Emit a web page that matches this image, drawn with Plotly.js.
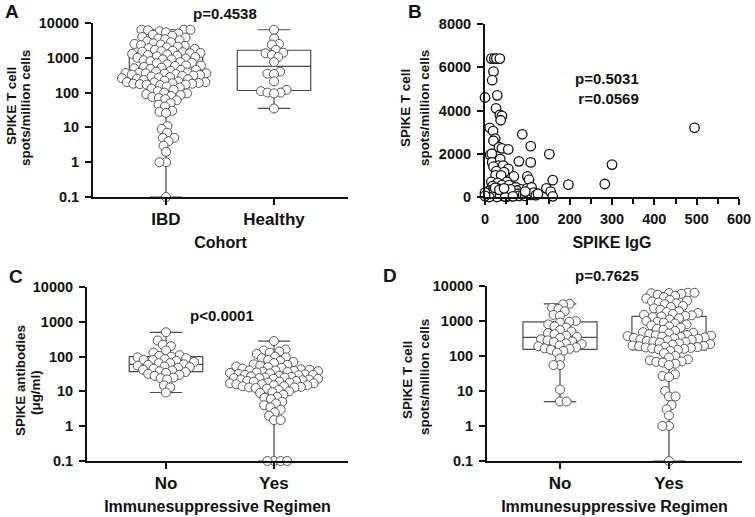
<!DOCTYPE html>
<html><head><meta charset="utf-8">
<script src="https://cdn.plot.ly/plotly-3.0.1.min.js"></script>
<style>html,body{margin:0;padding:0;background:#fff;}#chart{width:755px;height:517px;}</style>
</head><body><div id="chart"></div>
<script>
// ---------- DATA ----------
// Panel A: SPIKE T cell spots/million cells by cohort
const cohortCats = ['IBD', 'Healthy'];
const ibdTcell = [6400,6400,6400,6200,5800,5400,5000,4600,4300,4000,3800,3600,3400,3200,3000,2800,2600,2500,2400,2300,2200,2100,2000,1900,1800,1700,1600,1550,1500,1450,
1380,1350,1300,1250,1200,1150,1100,1050,1000,950,900,900,850,800,750,720,700,650,600,600,580,550,520,500,480,450,450,420,400,380,
370,365,360,360,350,340,330,320,310,300,290,280,270,260,250,240,230,220,210,200,200,195,190,185,180,180,175,170,170,165,
150,140,130,120,110,100,95,90,85,80,75,70,65,60,50,45,40,30,28,26,11,9,7,5,5,4,3,2,1,1,0.1];
const healthyTcell = [6400,3600,2500,2400,1700,1400,1350,1200,1050,750,400,350,340,210,120,110,100,100,95,35];
const aQ1 = [160, 115], aMedian = [375, 570], aQ3 = [1400, 1650], aMin = [0.1, 35], aMax = [6400, 6400];

// Panel B: SPIKE IgG vs SPIKE T cell
const igG = [0,15,22,27,35,20,17,29,26,35,40,37,11,19,24,20,33,40,55,88,108,152,12,16,17,36,32,43,55,80,108,20,27,45,100,104,160,68,25,38,52,15,30,18,40,57,73,85,100,110,145,155,197,283,300,495,
2,5,8,10,12,15,18,20,22,25,28,30,32,35,38,40,42,45,48,50,53,55,58,60,63,65,68,70,75,78,80,90,95,102,110,115,120,125,160,95,28,48,60,6,3,14,24,34,45,66,10,0,0];
const tcellB = [4600,6400,6400,6400,6400,5800,5400,4700,4100,3800,3750,3550,3200,3050,2700,2600,2300,2250,2200,2900,2350,1980,1950,2000,1600,1750,1450,1450,1300,1650,1600,1400,1200,1150,950,800,780,950,1000,1000,700,700,650,500,550,550,450,350,400,450,400,250,570,600,1500,3200,
100,250,50,150,300,200,80,350,150,50,250,400,100,200,300,50,150,250,350,100,20,200,300,120,50,250,200,100,300,150,50,100,50,150,100,200,80,150,30,250,0,20,350,180,30,120,420,330,400,30,0,200,50];

// Panel C: SPIKE antibodies by immunosuppressive regimen
const regimenCats = ['No', 'Yes'];
const abNo = [500,290,220,200,150,130,110,105,100,95,90,85,80,80,75,70,65,65,60,58,55,52,50,48,45,42,40,38,36,34,32,30,28,25,24,22,15,13,9.3];
const abYes = [280,160,150,140,130,120,100,95,90,80,75,70,65,60,58,55,52,50,48,45,43,42,40,40,39,38,37,36,35,34,33,32,31,30,30,29,28,27,26,25,25,24,24,23,23,22,22,21,20,20,19,19,18,18,17,17,16,16,15,15,14,14,13.5,13,13,12.5,12,11,10,9.5,9,8,7,6.5,6,5,4.5,4,3.5,3,2.5,2,1.5,1.5,0.1,0.1,0.1,0.1];
const cQ1 = [37, 13], cMedian = [60, 24], cQ3 = [100, 41], cMin = [9.3, 0.1], cMax = [500, 280];

// Panel D: SPIKE T cell by immunosuppressive regimen
const tcNo = [3100,3000,2400,2200,1900,1500,1400,1000,950,900,800,700,650,550,500,450,420,380,350,330,300,280,260,250,230,220,200,190,175,165,160,150,140,125,85,55,55,11,5,5];
const tcYes = [6400,6400,6300,6200,6000,5600,5200,4800,4400,4000,3800,3600,3400,3200,3000,2700,2500,2300,2100,1900,1800,1700,1600,1500,1450,1400,1350,
1300,1200,1100,1000,950,900,850,800,750,700,650,600,560,520,480,460,440,420,400,390,380,370,360,
350,340,330,320,310,300,290,280,270,260,250,240,230,220,210,200,195,190,185,180,175,170,165,160,155,150,
140,120,100,90,80,75,70,68,65,60,55,30,27,25,10,7,7,4,3,2,1,1,0.1];
const dQ1 = [155, 150], dMedian = [340, 360], dQ3 = [950, 1350], dMin = [5, 0.1], dMax = [3100, 6400];

const logTickVals = [0.1, 1, 10, 100, 1000, 10000];
const logTickText = ['0.1', '1', '10', '100', '1000', '10000'];

// ---------- STYLE / GEOMETRY ----------
const FONT = 'Liberation Sans, Arial, Helvetica, sans-serif';
const INK = '#111';
const BOXLINE = '#4a4a4a';
const W = 755, H = 517;
const LOGRANGE = [-1, 4];
const panels = {
  A: {x0: 93, x1: 348, y0: 23, y1: 197, range: [-0.676, 1.685]},
  B: {x0: 485, x1: 739, y0: 24, y1: 197},
  C: {x0: 87, x1: 348, y0: 287, y1: 461, range: [-0.731, 1.685]},
  D: {x0: 487, x1: 742, y0: 286, y1: 461, range: [-0.67, 1.67]}
};
function px(v) { return v / W; }
function py(v) { return 1 - v / H; }

// Beeswarm layout: offsets (in px) computed from values via the log scale of the panel
function beeswarm(vals, toPx, spacing, maxHalf) {
  const order = vals.map((v, i) => i).sort((a, b) => toPx(vals[a]) - toPx(vals[b]));
  const placed = [], out = new Array(vals.length);
  let flip = 1;
  order.forEach(i => {
    const y = toPx(vals[i]);
    const near = placed.filter(p => Math.abs(p.y - y) < spacing);
    let cands = [0];
    near.forEach(p => { const dx = Math.sqrt(spacing * spacing - (p.y - y) * (p.y - y)); cands.push(p.x + dx, p.x - dx); });
    cands = cands.filter(c => Math.abs(c) <= maxHalf + 1e-6);
    const ok = cands.filter(c => near.every(p => (p.x - c) * (p.x - c) + (p.y - y) * (p.y - y) >= spacing * spacing - 1e-6));
    let x;
    if (ok.length) {
      ok.sort((a, b) => Math.abs(a) - Math.abs(b) || (flip * (a - b)));
      x = ok[0];
    } else {
      let best = 0, bestD = -1;
      for (let c = -maxHalf; c <= maxHalf; c += 0.5) {
        const d = Math.min(...near.map(p => Math.hypot(p.x - c, p.y - y)));
        if (d > bestD + 1e-9) { bestD = d; best = c; }
      }
      x = best;
    }
    flip = -flip;
    placed.push({x: x, y: y}); out[i] = x;
  });
  return out;
}

function boxStats(xa, ya, q1, med, q3, lo, hi) {
  return {type: 'box', xaxis: xa, yaxis: ya, x: [0, 1], q1: q1, median: med, q3: q3,
    lowerfence: lo, upperfence: hi, boxpoints: false, width: 0.68, whiskerwidth: 0.44,
    line: {color: BOXLINE, width: 1.2}, fillcolor: 'rgba(0,0,0,0)', hoverinfo: 'skip'};
}
function swarmPts(xa, ya, groups, p) {
  const hPx = p.y1 - p.y0;
  const unitPx = (p.x1 - p.x0) / (p.range[1] - p.range[0]);
  const toPx = v => (Math.log10(v) - LOGRANGE[0]) / (LOGRANGE[1] - LOGRANGE[0]) * hPx;
  const xs = [], ys = [];
  groups.forEach((g, gi) => {
    const off = beeswarm(g, toPx, 6.6, 44);
    g.forEach((v, k) => { xs.push(gi + off[k] / unitPx); ys.push(v); });
  });
  return {type: 'scatter', mode: 'markers', xaxis: xa, yaxis: ya, x: xs, y: ys, cliponaxis: false,
    marker: {size: 9, color: '#fff', line: {color: '#555', width: 1}}};
}

const data = [
  boxStats('x', 'y', aQ1, aMedian, aQ3, aMin, aMax),
  swarmPts('x', 'y', [ibdTcell, healthyTcell], panels.A),
  {type: 'scatter', mode: 'markers', xaxis: 'x2', yaxis: 'y2', x: igG, y: tcellB, cliponaxis: false,
   marker: {size: 9.5, color: '#fff', line: {color: '#111', width: 1.3}}},
  boxStats('x3', 'y3', cQ1, cMedian, cQ3, cMin, cMax),
  swarmPts('x3', 'y3', [abNo, abYes], panels.C),
  boxStats('x4', 'y4', dQ1, dMedian, dQ3, dMin, dMax),
  swarmPts('x4', 'y4', [tcNo, tcYes], panels.D)
];

const axCommon = {showline: true, linewidth: 2, linecolor: INK, ticks: 'outside', ticklen: 6, tickwidth: 2,
  tickcolor: INK, showgrid: false, zeroline: false, fixedrange: true, automargin: false};
function catX(p, anchor, cats, title) {
  return Object.assign({}, axCommon, {domain: [px(p.x0), px(p.x1)], anchor: anchor, type: 'linear', range: p.range,
    tickmode: 'array', tickvals: [0, 1], ticktext: cats, ticklabelstandoff: 0,
    tickfont: {family: FONT, size: 17, weight: 'bold', color: INK},
    title: {text: title, font: {family: FONT, size: 16, weight: 'bold', color: INK}, standoff: 8}});
}
function logY(p, anchor) {
  return Object.assign({}, axCommon, {domain: [py(p.y1), py(p.y0)], anchor: anchor, type: 'log', range: LOGRANGE,
    tickmode: 'array', tickvals: logTickVals, ticktext: logTickText, ticklabelstandoff: 3,
    tickfont: {family: FONT, size: 14.5, weight: 'bold', color: INK}});
}

const labelFont = {family: FONT, size: 19, weight: 'bold', color: INK};
const pFont = {family: FONT, size: 15, weight: 'bold', color: INK};
const yTitleFont = {family: FONT, size: 13.4, weight: 'bold', color: INK};
function ann(text, x, y, font, extra) {
  return Object.assign({text: text, x: px(x), y: py(y), xref: 'paper', yref: 'paper', xanchor: 'center', yanchor: 'middle',
    showarrow: false, font: font}, extra || {});
}
const rot = {textangle: -90};

const layout = {
  width: W, height: H, margin: {l: 0, r: 0, t: 0, b: 0}, paper_bgcolor: '#fff', plot_bgcolor: '#fff',
  showlegend: false, font: {family: FONT, color: INK},
  xaxis: catX(panels.A, 'y', cohortCats, 'Cohort'),
  yaxis: logY(panels.A, 'x'),
  xaxis2: Object.assign({}, axCommon, {domain: [px(panels.B.x0), px(panels.B.x1)], anchor: 'y2', range: [0, 600], dtick: 100,
    ticklabelstandoff: 2, tickfont: {family: FONT, size: 14.5, weight: 'bold', color: INK},
    minor: {dtick: 50, ticks: 'outside', ticklen: 5, tickwidth: 2, tickcolor: INK},
    title: {text: 'SPIKE IgG', font: {family: FONT, size: 16, weight: 'bold', color: INK}, standoff: 10}}),
  yaxis2: Object.assign({}, axCommon, {domain: [py(panels.B.y1), py(panels.B.y0)], anchor: 'x2', range: [0, 8000], dtick: 2000,
    ticklabelstandoff: 3, tickfont: {family: FONT, size: 14.5, weight: 'bold', color: INK}}),
  xaxis3: catX(panels.C, 'y3', regimenCats, 'Immunesuppressive Regimen'),
  yaxis3: logY(panels.C, 'x3'),
  xaxis4: catX(panels.D, 'y4', regimenCats, 'Immunesuppressive Regimen'),
  yaxis4: logY(panels.D, 'x4'),
  annotations: [
    ann('A', 12, 12, labelFont), ann('B', 415, 12, labelFont),
    ann('C', 16, 276, labelFont), ann('D', 390, 275, labelFont),
    ann('p=0.4538', 225, 13, pFont),
    ann('p=0.5031<br>r=0.0569', 607, 89, pFont, {align: 'right'}),
    ann('p<0.0001', 222, 315, pFont),
    ann('p=0.7625', 607, 275, pFont),
    // y-axis titles
    ann('SPIKE T cell', 11, 106, yTitleFont, rot), ann('spots/million cells', 25, 108, yTitleFont, rot),
    ann('SPIKE T cell', 405, 108, yTitleFont, rot), ann('spots/million cells', 424, 108, yTitleFont, rot),
    ann('SPIKE antibodies', 20, 381, yTitleFont, rot), ann('(μg/ml)', 35, 393, yTitleFont, rot),
    ann('SPIKE T cell', 407, 380, yTitleFont, rot), ann('spots/million cells', 424, 377, yTitleFont, rot)
  ]
};

Plotly.newPlot('chart', data, layout, {staticPlot: true, displayModeBar: false});
</script></body></html>
